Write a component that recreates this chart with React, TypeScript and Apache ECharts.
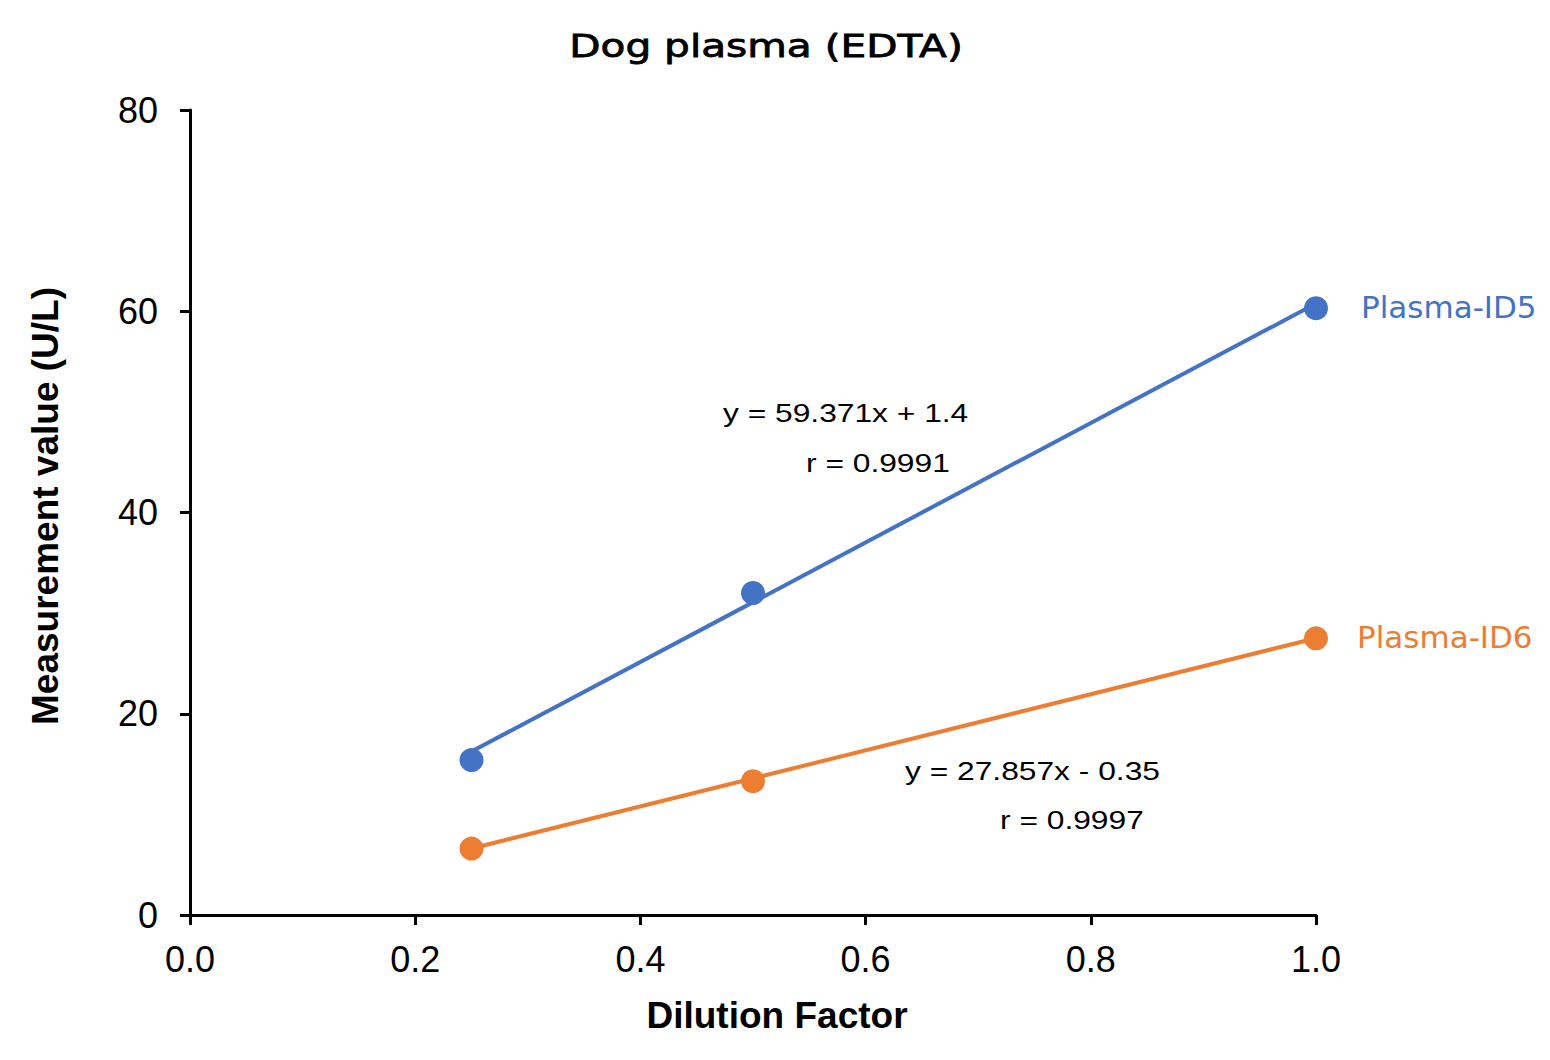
import React, { useEffect, useRef } from "react";
import * as echarts from "echarts";

// Dilution series measured for two canine EDTA plasma samples
const dilutionFactors = [0.25, 0.5, 1.0];
const id5Values = [15.4, 32.0, 60.3];
const id6Values = [6.6, 13.3, 27.5];
const sampleNames = ["Plasma-ID5", "Plasma-ID6"];
const sampleColors = ["#4472C4", "#ED7D31"];

// Linear fit of each sample (y = slope * x + intercept) with correlation r
const fitSlopes = [59.371, 27.857];
const fitIntercepts = [1.4, -0.35];
const fitR = [0.9991, 0.9997];

const xTickValues = [0, 0.2, 0.4, 0.6, 0.8, 1.0];
const yTickValues = [0, 20, 40, 60, 80];

const chartTitle = "Dog plasma (EDTA)";

const LABEL_FONT = "'Liberation Sans', Arial, sans-serif";
const WIDE_FONT = "'DejaVu Sans', Verdana, sans-serif";

function equationText(i: number): string {
  const b = fitIntercepts[i];
  const sign = b < 0 ? "-" : "+";
  return `y = ${fitSlopes[i]}x ${sign} ${Math.abs(b)}`;
}

function fitLine(i: number): number[][] {
  const xs = [dilutionFactors[0], dilutionFactors[dilutionFactors.length - 1]];
  return xs.map((x) => [x, fitSlopes[i] * x + fitIntercepts[i]]);
}

// Where each equation block sits on the canvas
const eqBlocks = [
  { x: 723, y: 413, rx: 806, ry: 463 },
  { x: 905, y: 771, rx: 1000, ry: 820 },
];

export default function App() {
  const ref = useRef<HTMLDivElement>(null);

  useEffect(() => {
    if (!ref.current) return;
    const chart = echarts.init(ref.current, null, { renderer: "svg" });

    const sampleSets = [id5Values, id6Values];

    const lineSeries = sampleSets.map((_, i) => ({
      type: "line",
      name: sampleNames[i] + " fit",
      data: fitLine(i),
      symbol: "none",
      lineStyle: { color: sampleColors[i], width: 4 },
      z: 2,
      silent: true,
    }));

    const pointSeries = sampleSets.map((vals, i) => ({
      type: "scatter",
      name: sampleNames[i],
      data: vals.map((v, k) => ({
        value: [dilutionFactors[k], v],
        label:
          k === vals.length - 1
            ? {
                show: true,
                formatter: sampleNames[i],
                position: "right",
                distance: i === 0 ? 33 : 29,
                offset: [0, -1],
                color: sampleColors[i],
                fontFamily: WIDE_FONT,
                fontSize: 31,
              }
            : { show: false },
      })),
      symbol: "circle",
      symbolSize: 24,
      itemStyle: { color: sampleColors[i], opacity: 1 },
      z: 3,
    }));

    const graphics: any[] = [
      {
        type: "text",
        x: 766,
        y: 46,
        scaleX: 1.27,
        style: {
          text: chartTitle,
          font: `32px ${WIDE_FONT}`,
          fill: "#000",
          stroke: "#000",
          lineWidth: 0.8,
          textAlign: "center",
          textVerticalAlign: "middle",
        },
      },
    ];
    eqBlocks.forEach((b, i) => {
      graphics.push({
        type: "text",
        x: b.x,
        y: b.y,
        scaleX: 1.27,
        style: {
          text: equationText(i),
          font: `25px ${LABEL_FONT}`,
          fill: "#000",
          textAlign: "left",
          textVerticalAlign: "middle",
        },
      });
      graphics.push({
        type: "text",
        x: b.rx,
        y: b.ry,
        scaleX: 1.27,
        style: {
          text: `r = ${fitR[i]}`,
          font: `25px ${LABEL_FONT}`,
          fill: "#000",
          textAlign: "left",
          textVerticalAlign: "middle",
        },
      });
    });

    chart.setOption({
      animation: false,
      backgroundColor: "#fff",
      grid: { left: 190, right: 234, top: 110, bottom: 145 },
      xAxis: {
        type: "value",
        min: xTickValues[0],
        max: xTickValues[xTickValues.length - 1],
        interval: 0.2,
        name: "Dilution Factor",
        nameLocation: "middle",
        nameGap: 82,
        nameTextStyle: {
          fontFamily: LABEL_FONT,
          fontSize: 37,
          fontWeight: "bold",
          color: "#000",
          padding: [0, 0, 0, 48],
        },
        axisLine: { show: true, onZero: false, lineStyle: { color: "#000", width: 3 } },
        axisTick: { show: true, length: 10, lineStyle: { color: "#000", width: 3 } },
        axisLabel: {
          margin: 26,
          fontFamily: LABEL_FONT,
          fontSize: 36,
          color: "#000",
          formatter: (v: number) => v.toFixed(1),
        },
        splitLine: { show: false },
      },
      yAxis: {
        type: "value",
        min: yTickValues[0],
        max: yTickValues[yTickValues.length - 1],
        interval: 20,
        name: "Measurement value (U/L)",
        nameLocation: "middle",
        nameGap: 126,
        nameTextStyle: {
          fontFamily: LABEL_FONT,
          fontSize: 37,
          fontWeight: "bold",
          color: "#000",
          padding: [0, 0, 0, 13],
        },
        axisLine: { show: true, onZero: false, lineStyle: { color: "#000", width: 3 } },
        axisTick: { show: true, length: 10, lineStyle: { color: "#000", width: 3 } },
        axisLabel: {
          margin: 32,
          fontFamily: LABEL_FONT,
          fontSize: 36,
          color: "#000",
        },
        splitLine: { show: false },
      },
      series: [...lineSeries, ...pointSeries],
      graphic: graphics,
    });

    return () => chart.dispose();
  }, []);

  return (
    <div
      ref={ref}
      style={{
        position: "fixed",
        left: 0,
        top: 0,
        width: 1550,
        height: 1060,
        background: "#fff",
      }}
    />
  );
}
